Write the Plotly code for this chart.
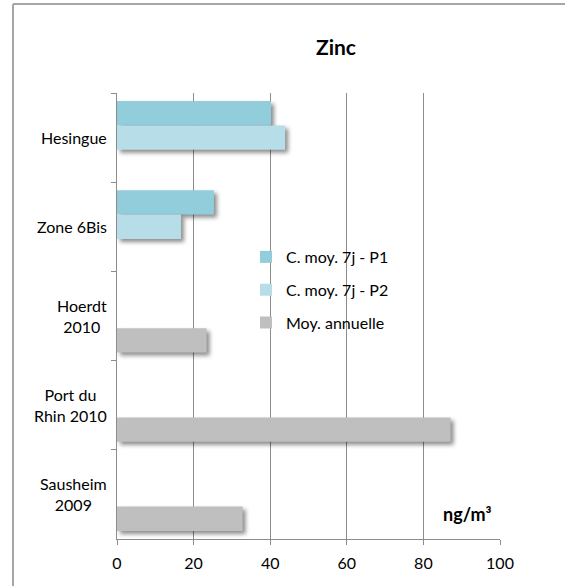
import plotly.graph_objects as go

# Zinc concentrations (ng/m3) per site
sites = ["Hesingue", "Zone 6Bis", "Hoerdt 2010", "Port du Rhin 2010", "Sausheim 2009"]
site_labels = ["Hesingue", "Zone 6Bis", "Hoerdt<br>2010", "Port du<br>Rhin 2010", "Sausheim<br>2009"]
p1_values = [40.2, 25.3, None, None, None]
p2_values = [43.9, 16.7, None, None, None]
annual_values = [None, None, 23.4, 87.1, 32.8]

series_names = ["C. moy. 7j - P1", "C. moy. 7j - P2", "Moy. annuelle"]
series_colors = ["#92CDDC", "#B7DEE8", "#BFBFBF"]
x_ticks = [0, 20, 40, 60, 80, 100]

FONT = "Lato"
W, H = 565, 586
L, R, T, B = 117, 65, 93, 47
PW, PH = W - L - R, H - T - B

fig = go.Figure()
for name, vals, col in zip(series_names, [p1_values, p2_values, annual_values], series_colors):
    fig.add_trace(go.Bar(
        y=sites, x=vals, name=name, orientation="h",
        marker=dict(color=col, line=dict(width=0)),
        legendgroup=name,
    ))

fig.update_layout(
    width=W, height=H,
    margin=dict(l=L, r=R, t=T, b=B),
    paper_bgcolor="white", plot_bgcolor="white",
    barmode="group", bargap=0.18, bargroupgap=0,
    font=dict(family=FONT, size=16, color="#000000"),
    title=dict(text="<b>Zinc</b>", x=336 / W, xanchor="center",
               y=1 - 48 / H, yanchor="middle", xref="container", yref="container",
               font=dict(family=FONT, size=21, color="#000000")),
    legend=dict(
        x=(246 - L) / PW, xanchor="left",
        y=1 - (240 - T) / PH, yanchor="top",
        bgcolor="rgba(0,0,0,0)", traceorder="grouped", tracegroupgap=9,
        font=dict(family=FONT, size=16),
        itemwidth=30,
    ),
    xaxis=dict(
        range=[0, 100], tickvals=x_ticks, ticktext=[str(v) for v in x_ticks],
        showgrid=True, gridcolor="#8C8C8C", gridwidth=1,
        showline=True, linecolor="#8C8C8C", linewidth=1,
        ticks="outside", ticklen=5, tickcolor="#8C8C8C", ticklabelstandoff=5,
        zeroline=False, tickfont=dict(family=FONT, size=16), fixedrange=True,
    ),
    yaxis=dict(
        categoryorder="array", categoryarray=sites, autorange="reversed",
        showticklabels=False, showgrid=False,
        showline=True, linecolor="#8C8C8C", linewidth=1,
        ticks="outside", ticklen=5, tickcolor="#8C8C8C", tickson="boundaries",
        fixedrange=True,
    ),
    shapes=[
        # chart frame: top and left edges
        dict(type="line", xref="paper", yref="paper",
             x0=(13 - L) / PW, x1=(W + 5 - L) / PW,
             y0=1 + (T - 4) / PH, y1=1 + (T - 4) / PH,
             line=dict(color="#A6A6A6", width=2)),
        dict(type="line", xref="paper", yref="paper",
             x0=(13 - L) / PW, x1=(13 - L) / PW,
             y0=1 + (T - 4) / PH, y1=-(B + 5) / PH,
             line=dict(color="#A6A6A6", width=2)),
    ],
)

# Category labels, centred line by line, to the left of the axis
for site, label in zip(sites, site_labels):
    fig.add_annotation(
        x=0, xref="paper", xshift=-8, xanchor="right", y=site, yref="y",
        text=label, showarrow=False, align="center",
        font=dict(family=FONT, size=16, color="#000000"),
    )

# Unit label
fig.add_annotation(
    x=91.5, xref="x", y=0, yref="paper", text="<b>ng/m³</b>", showarrow=False,
    xanchor="center", yanchor="middle", yshift=25,
    font=dict(family=FONT, size=18, color="#000000"),
)

shadow_js = """
var gd = document.getElementById('{plot_id}');
function addShadows() {
  gd.querySelectorAll('.barlayer .point path').forEach(function (p) {
    p.style.filter = 'drop-shadow(3px 3px 2px rgba(0,0,0,0.45))';
  });
}
addShadows();
gd.on('plotly_afterplot', addShadows);
"""

fig.write_html("out.html", post_script=shadow_js, config={"displayModeBar": False})
